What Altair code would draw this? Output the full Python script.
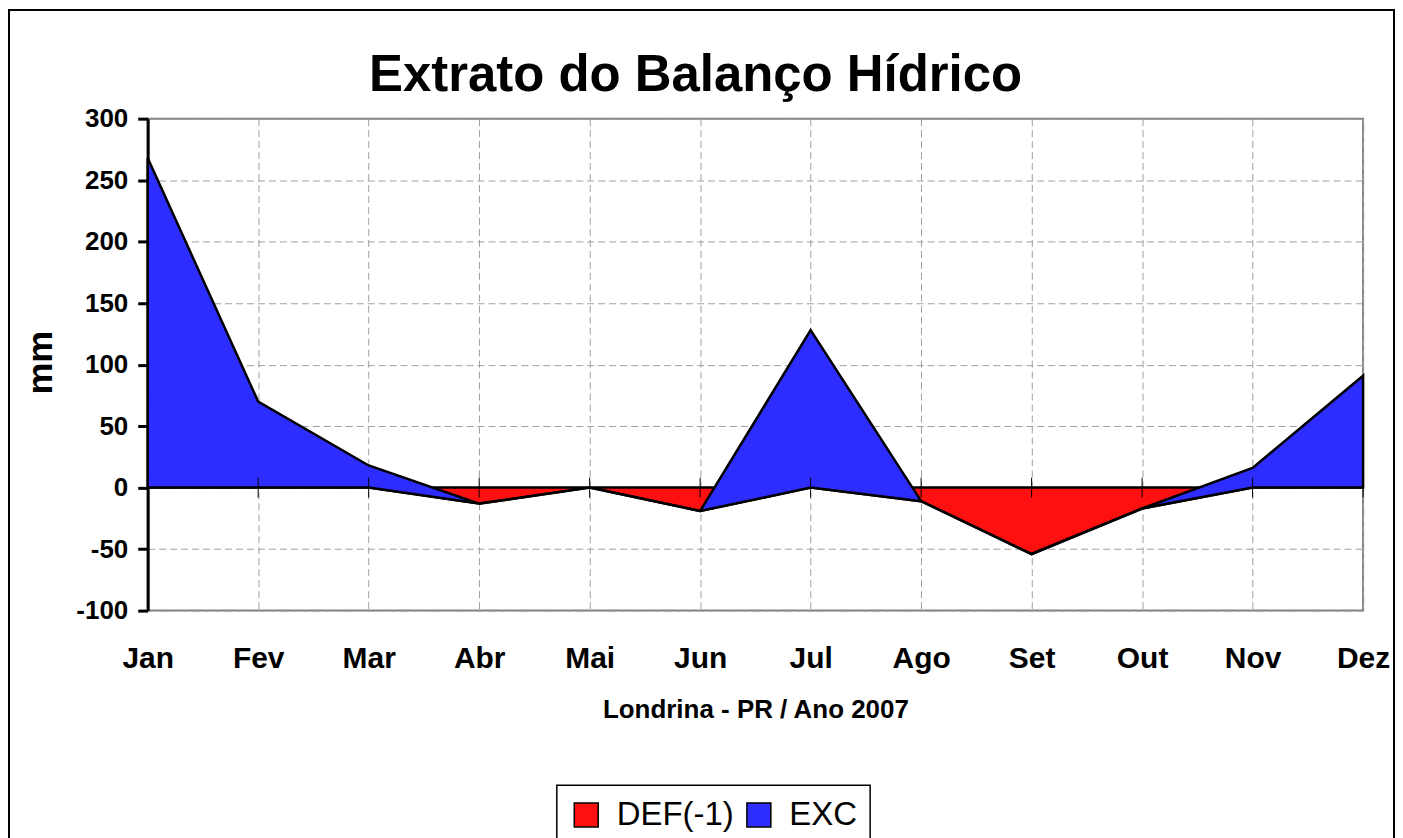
import altair as alt
import pandas as pd

# ---------------- data ----------------
months = ["Jan", "Fev", "Mar", "Abr", "Mai", "Jun", "Jul", "Ago", "Set", "Out", "Nov", "Dez"]
def_values = [0, 0, 0, -13, 0, -19, 0, -11, -54, -17, 0, 0]
exc_values = [268, 70, 18, 0, 0, 0, 128, 0, 0, 0, 16, 91]
series_names = ["DEF(-1)", "EXC"]
series_colors = ["#ff1010", "#2d2dff"]
y_ticks = [-100, -50, 0, 50, 100, 150, 200, 250, 300]

title_text = "Extrato do Balanço Hídrico"
x_title = "Londrina - PR / Ano 2007"
y_title = "mm"

FONT = "Liberation Sans, Arial, sans-serif"
W, H = 1218, 493
Y_MIN, Y_MAX = -100, 300

df = pd.DataFrame({"mes": months, "DEF": def_values, "EXC": exc_values})

# ---------------- encodings ----------------
grid_color = "#a0a0a0"
x_enc = alt.X(
    "mes:O", sort=months, scale=alt.Scale(type="point", padding=0),
    axis=alt.Axis(
        title=x_title, domain=False, ticks=False, tickSize=0,
        labelPadding=57, labelBaseline="alphabetic", labelAngle=0,
        labelFont=FONT, labelFontSize=30, labelFontWeight="bold", labelColor="black",
        grid=True, gridColor=grid_color, gridDash=[7, 4], gridWidth=1,
        titleFont=FONT, titleFontSize=26, titleFontWeight="bold", titleColor="black",
        titleBaseline="alphabetic", titleY=107,
    ),
)
y_scale = alt.Scale(domain=[Y_MIN, Y_MAX], nice=False, zero=False)
y_axis = alt.Axis(
    title=y_title, values=y_ticks, labelExpr="'' + datum.value",
    domain=True, domainColor="black", domainWidth=3,
    ticks=True, tickColor="black", tickWidth=3, tickSize=10,
    labelPadding=10, labelFont=FONT, labelFontSize=26, labelFontWeight="bold", labelColor="black",
    grid=True, gridColor=grid_color, gridDash=[7, 4], gridWidth=1,
    titleFont=FONT, titleFontSize=36, titleFontWeight="bold", titleColor="black",
    titleAngle=270, titleBaseline="middle", titleAlign="center", titleX=-107, titleY=244,
)

frame = alt.Chart(pd.DataFrame({"f": [0]})).mark_rect(
    fillOpacity=0, stroke="black", strokeWidth=2
).encode(
    x=alt.value(-139), x2=alt.value(W + 31), y=alt.value(-109), y2=alt.value(H + 250)
)

red = alt.Chart(df).mark_area(fill=series_colors[0], stroke="black", strokeWidth=2.5).encode(
    x=x_enc, y=alt.Y("DEF:Q", scale=y_scale, axis=y_axis), y2=alt.datum(0)
)

blue = alt.Chart(df).transform_calculate(topo="datum.DEF + datum.EXC").mark_area(
    fill=series_colors[1], stroke="black", strokeWidth=2.5
).encode(
    x=x_enc, y=alt.Y("topo:Q", scale=y_scale, axis=y_axis), y2="DEF:Q"
)

ticks = alt.Chart(df).mark_rule(color="black", strokeWidth=1, yOffset=-10, y2Offset=10).encode(
    x=x_enc, y=alt.YDatum(0, scale=y_scale, axis=y_axis), y2=alt.datum(0)
)

leg = alt.Chart(pd.DataFrame({"serie": series_names})).mark_square(opacity=0, size=10).encode(
    color=alt.Color(
        "serie:N", scale=alt.Scale(domain=series_names, range=series_colors),
        legend=alt.Legend(
            title=None, orient="none", legendX=410, legendY=668, direction="horizontal",
            columns=2, symbolType="square", symbolSize=576, symbolOpacity=1,
            symbolStrokeColor="black", symbolStrokeWidth=1.5,
            labelFont=FONT, labelFontSize=33, labelColor="black", labelOffset=14,
            columnPadding=8, padding=13, strokeColor="black",
        ),
    )
)

chart = alt.layer(frame, red, blue, ticks, leg).properties(
    width=W, height=H,
    autosize=alt.AutoSizeParams(type="none"),
    padding={"left": 140, "top": 110, "right": 32, "bottom": 232},
    background="white",
    title=alt.TitleParams(
        title_text, font=FONT, fontSize=51, fontWeight="bold", color="black",
        anchor="middle", frame="group", baseline="alphabetic", offset=0, dx=-60, dy=133,
    ),
).configure_view(stroke="#808080", strokeWidth=2).configure_legend(strokeWidth=1.5)

chart.save("out.html", embed_options={"renderer": "svg", "actions": False})
